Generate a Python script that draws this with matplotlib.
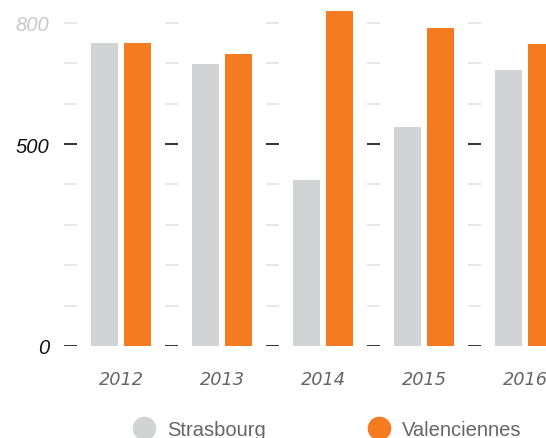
import numpy as np
import matplotlib
matplotlib.use('Agg')
import matplotlib.pyplot as plt
from matplotlib.lines import Line2D

# data
years = ['2012', '2013', '2014', '2015', '2016']
strasbourg = [750, 698, 411, 542, 683]
valenciennes = [750, 723, 829, 787, 748]
yticks_labeled = [0, 500, 800]
dash_levels = [0, 100, 200, 300, 400, 500, 600, 700, 800]

GREY = '#d2d3d5'
ORANGE = '#f47b20'
TEXT = '#666666'

fig = plt.figure(figsize=(5.46, 4.39), dpi=100)
W, H = 546, 439
ax = fig.add_axes([60 / W, (H - 347) / H, (W - 60) / W, (347 - 9.7) / H])

x = np.arange(len(years))
bw = 0.267
off = 0.163
ax.bar(x - off, strasbourg, width=bw, color=GREY, label='Strasbourg')
ax.bar(x + off, valenciennes, width=bw, color=ORANGE, label='Valenciennes')

# short dashes between the groups instead of gridlines
for b in x - 0.5:
    for lv in dash_levels:
        major = lv in (0, 500)
        ax.plot([b - 0.06, b + 0.06], [lv, lv],
                color='#333333' if major else '#e3e3e3',
                lw=1.4 if major else 1.2, solid_capstyle='butt', zorder=1)

ax.set_xlim(-0.604, 4.208)
ax.set_ylim(0, 835)
for s in ax.spines.values():
    s.set_visible(False)

ax.set_yticks(yticks_labeled)
ax.set_yticklabels([str(v) for v in yticks_labeled])
ax.tick_params(axis='y', length=0, pad=8)
for lab in ax.get_yticklabels():
    lab.set_fontfamily('Liberation Sans')
    lab.set_fontstyle('italic')
    lab.set_fontsize(14.5)
    lab.set_color('#111111')
ax.get_yticklabels()[-1].set_color('#c8c8c8')

ax.set_xticks(x)
ax.set_xticklabels(years)
ax.tick_params(axis='x', length=0, pad=17)
for lab in ax.get_xticklabels():
    lab.set_fontfamily('DejaVu Sans')
    lab.set_fontstyle('italic')
    lab.set_fontsize(12.8)
    lab.set_color(TEXT)

handles = [Line2D([], [], marker='o', ls='none', ms=16, color=GREY, mec=GREY),
           Line2D([], [], marker='o', ls='none', ms=16, color=ORANGE, mec=ORANGE)]
leg = fig.legend(handles, ['Strasbourg', 'Valenciennes'], loc='center',
                 bbox_to_anchor=(327 / W, (H - 431) / H), ncol=2, frameon=False,
                 handletextpad=0.55, columnspacing=5.0, handlelength=1.2,
                 prop={'family': 'Liberation Sans', 'size': 14.5})
for t in leg.get_texts():
    t.set_color(TEXT)

fig.savefig('out.png', dpi=100)
